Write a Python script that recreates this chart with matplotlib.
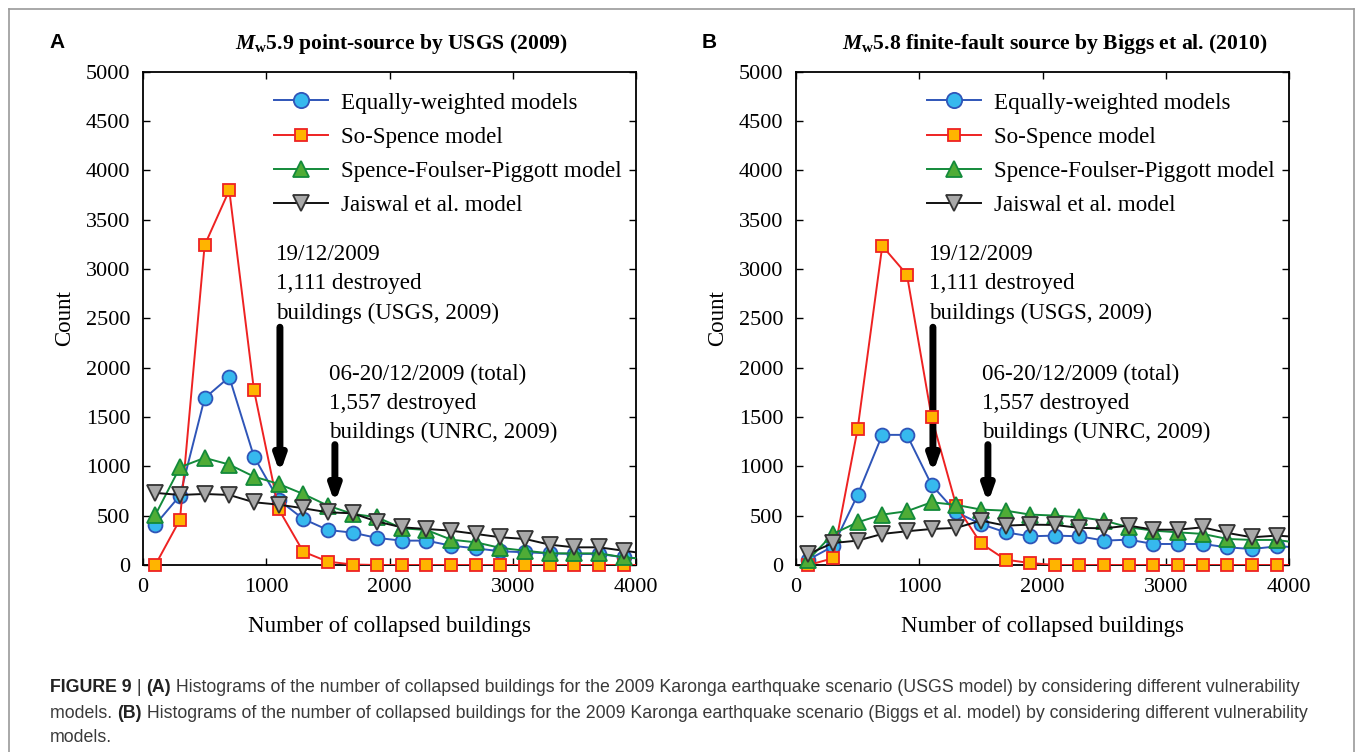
import matplotlib
matplotlib.use("Agg")
import matplotlib.pyplot as plt
from matplotlib.lines import Line2D

plt.rcParams['font.family'] = ['Liberation Serif', 'DejaVu Serif']
plt.rcParams['mathtext.fontset'] = 'custom'
plt.rcParams['mathtext.rm'] = 'Liberation Serif:bold'
plt.rcParams['mathtext.it'] = 'Liberation Serif:italic:bold'
plt.rcParams['mathtext.bf'] = 'Liberation Serif:bold'

# ---------------- data ----------------
bins = [100, 300, 500, 700, 900, 1100, 1300, 1500, 1700, 1900,
        2100, 2300, 2500, 2700, 2900, 3100, 3300, 3500, 3700, 3900, 4100]

labels = ["Equally-weighted models", "So-Spence model",
          "Spence-Foulser-Piggott model", "Jaiswal et al. model"]

# Panel A : Mw5.9 point-source by USGS (2009)
a_equal = [409, 704, 1691, 1905, 1099, 660, 467, 355, 328, 274,
           247, 247, 196, 169, 139, 129, 118, 112, 112, 78, 60]
a_sospence = [0, 460, 3241, 3799, 1776, 568, 135, 34, 5, 0,
              0, 0, 0, 0, 0, 0, 0, 0, 0, 0, 0]
a_sfp = [507, 991, 1086, 1018, 896, 822, 720, 602, 518, 484,
         372, 355, 257, 230, 173, 145, 118, 118, 118, 78, 58]
a_jaiswal = [731, 710, 720, 710, 636, 612, 575, 534, 524, 440,
             382, 365, 348, 315, 281, 264, 206, 179, 179, 145, 112]

# Panel B : Mw5.8 finite-fault source by Biggs et al. (2010)
b_equal = [54, 189, 710, 1319, 1319, 812, 535, 416, 331, 291,
           298, 291, 247, 257, 213, 213, 213, 179, 162, 189, 179]
b_sospence = [0, 68, 1380, 3234, 2943, 1499, 602, 220, 54, 20,
              0, 0, 0, 0, 0, 0, 0, 0, 0, 0, 0]
b_sfp = [54, 315, 433, 511, 545, 636, 609, 562, 551, 511,
         501, 484, 450, 382, 348, 331, 315, 264, 254, 254, 220]
b_jaiswal = [112, 223, 247, 315, 342, 365, 376, 450, 399, 409,
             406, 376, 372, 399, 358, 358, 382, 325, 281, 298, 281]

events = [1111, 1557]
event_texts = ["19/12/2009\n1,111 destroyed\nbuildings (USGS, 2009)",
               "06-20/12/2009 (total)\n1,557 destroyed\nbuildings (UNRC, 2009)"]

titles = [r"$\mathit{M}_{\mathrm{w}}$5.9 point-source by USGS (2009)",
          r"$\mathit{M}_{\mathrm{w}}$5.8 finite-fault source by Biggs et al. (2010)"]
panel_letters = ["A", "B"]

xticks = [0, 1000, 2000, 3000, 4000]
yticks = [0, 500, 1000, 1500, 2000, 2500, 3000, 3500, 4000, 4500, 5000]

# ---------------- styles ----------------
styles = [
    dict(color="#2f55b8", marker="o", mfc="#36b9ee", mec="#2f55b8", ms=10),
    dict(color="#ee2222", marker="s", mfc="#ffb400", mec="#ee2222", ms=8),
    dict(color="#138a3a", marker="^", mfc="#4fac36", mec="#138a3a", ms=11),
    dict(color="#111111", marker="v", mfc="#a9a9a9", mec="#333333", ms=11),
]

W, H = 1356, 752
fig = plt.figure(figsize=(W / 100, H / 100), dpi=100)

# outer grey frame
fig.add_artist(Line2D([8.5 / W, 8.5 / W], [0, 1 - 8.5 / H], transform=fig.transFigure,
                      color="#9a9a9a", lw=1.2))
fig.add_artist(Line2D([8.5 / W, 1353.5 / W], [1 - 8.5 / H, 1 - 8.5 / H],
                      transform=fig.transFigure, color="#9a9a9a", lw=1.2))
fig.add_artist(Line2D([1353.5 / W, 1353.5 / W], [0, 1 - 8.5 / H], transform=fig.transFigure,
                      color="#9a9a9a", lw=1.2))

ax_lefts = [143, 796]
ax_w = 493
ax_top = 71.7
ax_bot = 565

panels = [
    [a_equal, a_sospence, a_sfp, a_jaiswal],
    [b_equal, b_sospence, b_sfp, b_jaiswal],
]

FS = 16.6
for p in range(2):
    left = ax_lefts[p]
    ax = fig.add_axes([left / W, 1 - ax_bot / H, ax_w / W, (ax_bot - ax_top) / H])
    handles = []
    nvis = len([b for b in bins if b <= 4000])
    for s, series in enumerate(panels[p]):
        st = styles[s]
        # line (clipped to axes)
        ax.plot(bins, series, color=st["color"], lw=1.4, zorder=2 + s)
        # markers (not clipped so zero values sit on the spine)
        ax.plot(bins[:nvis], series[:nvis], ls="none", marker=st["marker"],
                mfc=st["mfc"], mec=st["mec"], ms=st["ms"], mew=1.3,
                clip_on=False, zorder=3 + s)
        handles.append(Line2D([], [], color=st["color"], lw=1.4, marker=st["marker"],
                              mfc=st["mfc"], mec=st["mec"], ms=st["ms"] + 1, mew=1.3))
    ax.set_xlim(0, 4000)
    ax.set_ylim(0, 5000)
    ax.set_xticks(xticks)
    ax.set_yticks(yticks)
    ax.tick_params(direction="in", top=True, right=True, length=5, width=1,
                   labelsize=16, pad=9)
    for sp in ax.spines.values():
        sp.set_linewidth(1.3)
    ax.set_xlabel("Number of collapsed buildings", fontsize=16.5, labelpad=14)
    ax.set_ylabel("Count", fontsize=16.5, labelpad=8)

    ax.legend(handles, labels, loc="upper left", bbox_to_anchor=(0.265, 0.958),
              frameon=False, fontsize=FS, handlelength=2.35, handletextpad=0.55,
              labelspacing=0.56, borderpad=0, borderaxespad=0)

    # event annotations
    ax.text(1079, 3250, event_texts[0], fontsize=FS, va="top", ha="left",
            linespacing=1.5)
    ax.text(1510, 2040, event_texts[1], fontsize=FS, va="top", ha="left",
            linespacing=1.5)
    ax.annotate("", xy=(events[0], 930), xytext=(events[0], 2410),
                arrowprops=dict(arrowstyle="-|>,head_length=0.9,head_width=0.32",
                                lw=5, color="black", shrinkA=0, shrinkB=0))
    ax.annotate("", xy=(events[1], 625), xytext=(events[1], 1220),
                arrowprops=dict(arrowstyle="-|>,head_length=0.9,head_width=0.32",
                                lw=5, color="black", shrinkA=0, shrinkB=0))

    # title and panel letter
    fig.text((left + ax_w / 2 + 12) / W, 1 - 44 / H, titles[p], fontsize=15.6,
             fontweight="bold", ha="center", va="center")
    fig.text((left - 94) / W, 1 - 42 / H, panel_letters[p], fontsize=15,
             fontweight="bold", family=["Liberation Sans", "DejaVu Sans"],
             ha="left", va="center")

# ---------------- caption ----------------
cap_fam = ["Liberation Sans Narrow", "Liberation Sans", "DejaVu Sans"]
cap_fs = 12.75
cap_color = "#3a3a3a"
renderer = fig.canvas.get_renderer()


def write_pieces(pieces, x0, y0):
    x = x0
    for txt, bold in pieces:
        t = fig.text(x / W, 1 - y0 / H, txt, fontsize=cap_fs, family=cap_fam,
                     fontweight="bold" if bold else "normal",
                     color="#222222" if bold else cap_color, ha="left", va="center")
        bb = t.get_window_extent(renderer=renderer)
        x += bb.width


line1 = [("FIGURE 9", True), (" | ", False), ("(A)", True),
         (" Histograms of the number of collapsed buildings for the 2009 Karonga earthquake "
          "scenario (USGS model) by considering different vulnerability", False)]
line2 = [("models. ", False), ("(B)", True),
         (" Histograms of the number of collapsed buildings for the 2009 Karonga earthquake "
          "scenario (Biggs et al. model) by considering different vulnerability", False)]
line3 = [("models.", False)]
write_pieces(line1, 50, 688)
write_pieces(line2, 50, 713)
write_pieces(line3, 50, 738)

fig.savefig("out.png", dpi=100)
